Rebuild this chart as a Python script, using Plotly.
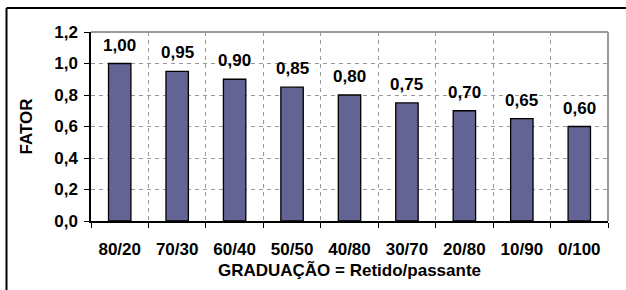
import plotly.graph_objects as go

categories = ["80/20", "70/30", "60/40", "50/50", "40/80", "30/70", "20/80", "10/90", "0/100"]
values = [1.00, 0.95, 0.90, 0.85, 0.80, 0.75, 0.70, 0.65, 0.60]
labels = ["1,00", "0,95", "0,90", "0,85", "0,80", "0,75", "0,70", "0,65", "0,60"]

W, H = 626, 290
L, R, T, B = 91, 18, 32, 69
pw, ph = W - L - R, H - T - B

FAM = "Arial, Liberation Sans, sans-serif"

fig = go.Figure()
fig.add_trace(go.Bar(
    x=categories, y=values,
    marker=dict(color="#636394", line=dict(color="black", width=1.3)),
    width=0.39,
))

for c, v, t in zip(categories, values, labels):
    fig.add_annotation(x=c, y=v, text=t, showarrow=False, yanchor="bottom", yshift=7,
                       font=dict(family=FAM, size=17, color="black", weight="bold"))

font = dict(family=FAM, size=17, color="black", weight="bold")
fig.update_layout(
    width=W, height=H, margin=dict(l=L, r=R, t=T, b=B, autoexpand=False),
    paper_bgcolor="white", plot_bgcolor="white",
    separators=",.", showlegend=False, font=font,
    xaxis=dict(
        type="category", tickson="boundaries", showgrid=True, gridcolor="#999999",
        griddash="4px,4px", gridwidth=1, ticks="outside", ticklen=5, tickcolor="black",
        showline=True, linecolor="black", linewidth=1.5, automargin=False,
        ticklabelstandoff=12,
        tickfont=font,
        title=dict(text="GRADUAÇÃO = Retido/passante", standoff=6, font=font),
    ),
    yaxis=dict(
        range=[0, 1.2], dtick=0.2, tickformat=".1f", showgrid=True, gridcolor="#999999",
        griddash="4px,4px", gridwidth=1, ticks="outside", ticklen=5, tickcolor="black",
        showline=True, linecolor="black", linewidth=1.5, zeroline=False, automargin=False,
        ticklabelstandoff=3,
        tickfont=font,
        title=dict(text="FATOR", standoff=17, font=font),
    ),
)

# plot-area grey top/right border
fig.add_shape(type="line", xref="paper", yref="paper", x0=0, x1=1, y0=1, y1=1,
              line=dict(color="#999999", width=2))
fig.add_shape(type="line", xref="paper", yref="paper", x0=1, x1=1, y0=0, y1=1,
              line=dict(color="#999999", width=2))

def px_x(x):
    return (x - L) / pw
def px_y(y):
    return (H - B - y) / ph

# outer chart border (top and left visible)
fig.add_shape(type="line", xref="paper", yref="paper", x0=px_x(6.5), x1=px_x(640),
              y0=px_y(8), y1=px_y(8), line=dict(color="black", width=2))
fig.add_shape(type="line", xref="paper", yref="paper", x0=px_x(6.5), x1=px_x(6.5),
              y0=px_y(8), y1=px_y(300), line=dict(color="black", width=2))

fig.write_html("out.html", config={"displayModeBar": False},
               post_script="document.body.style.margin='0';")
